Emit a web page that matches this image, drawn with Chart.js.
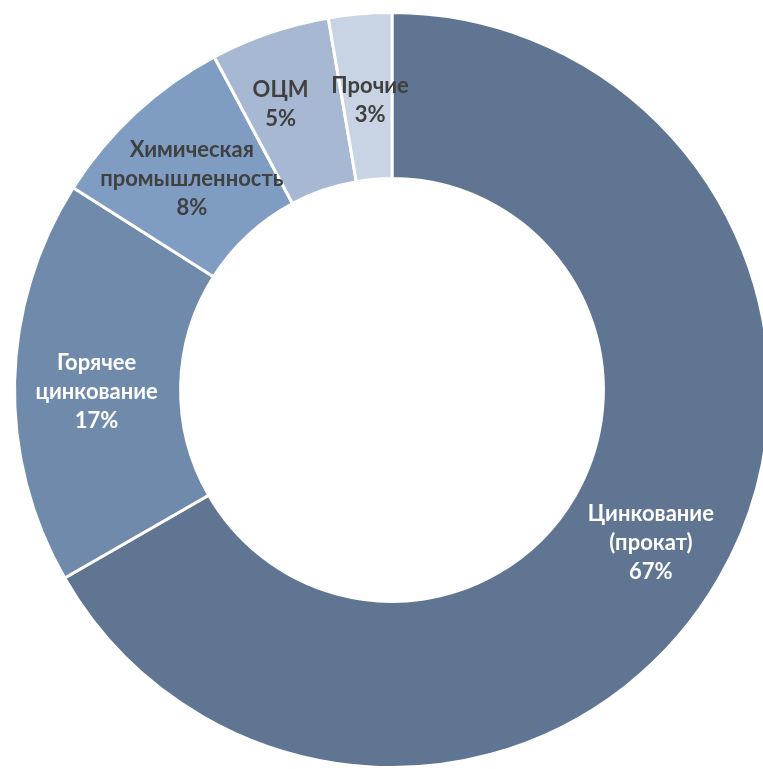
<!DOCTYPE html>
<html>
<head>
<meta charset="utf-8">
<script src="https://cdn.jsdelivr.net/npm/chart.js@4/dist/chart.umd.min.js"></script>
<style>
html,body{margin:0;padding:0;background:#fff;overflow:hidden;width:763px;height:769px;}
#c{position:absolute;left:0;top:0;}
</style>
</head>
<body>
<canvas id="c" width="784" height="780"></canvas>
<script>
const categories = [
  ["Цинкование", "(прокат)"],
  ["Горячее", "цинкование"],
  ["Химическая", "промышленность"],
  ["ОЦМ"],
  ["Прочие"]
];
const shares = [66.7, 17.3, 8.2, 5.1, 2.7];
const sliceColors = ["#5F7591", "#6F8AAB", "#7F9DC2", "#A7B8D3", "#C8D3E3"];
const labelColors = ["#FFFFFF", "#FFFFFF", "#404040", "#404040", "#404040"];

const labelPlugin = {
  id: 'sliceLabels',
  afterDatasetsDraw(chart, args, opts) {
    const ctx = chart.ctx;
    const meta = chart.getDatasetMeta(0);
    const nudge = opts.nudge || [];
    ctx.save();
    ctx.font = 'bold 22px Lato, "Open Sans", sans-serif';
    ctx.textAlign = 'center';
    ctx.textBaseline = 'middle';
    const lh = 29;
    meta.data.forEach((arc, i) => {
      const p = arc.tooltipPosition();
      const n = nudge[i] || [0, 0];
      const lines = categories[i].concat([Math.round(shares[i]) + '%']);
      const h = (lines.length - 1) * lh;
      ctx.fillStyle = labelColors[i];
      lines.forEach((t, k) => {
        ctx.fillText(t, p.x + n[0], p.y + n[1] - h / 2 + k * lh);
      });
    });
    ctx.restore();
  }
};

new Chart(document.getElementById('c'), {
  type: 'doughnut',
  data: {
    labels: categories.map(c => c.join(' ')),
    datasets: [{
      data: shares,
      backgroundColor: sliceColors,
      borderColor: '#FFFFFF',
      borderWidth: 3
    }]
  },
  options: {
    responsive: false,
    animation: false,
    cutout: '56%',
    layout: { padding: { left: 13, right: 13, top: 11, bottom: 11 } },
    plugins: {
      legend: { display: false },
      tooltip: { enabled: false },
      sliceLabels: { nudge: [[4, 5], [-1, 8], [0, 5], [-16, -7], [3, 4]] }
    }
  },
  plugins: [labelPlugin]
});
</script>
</body>
</html>
